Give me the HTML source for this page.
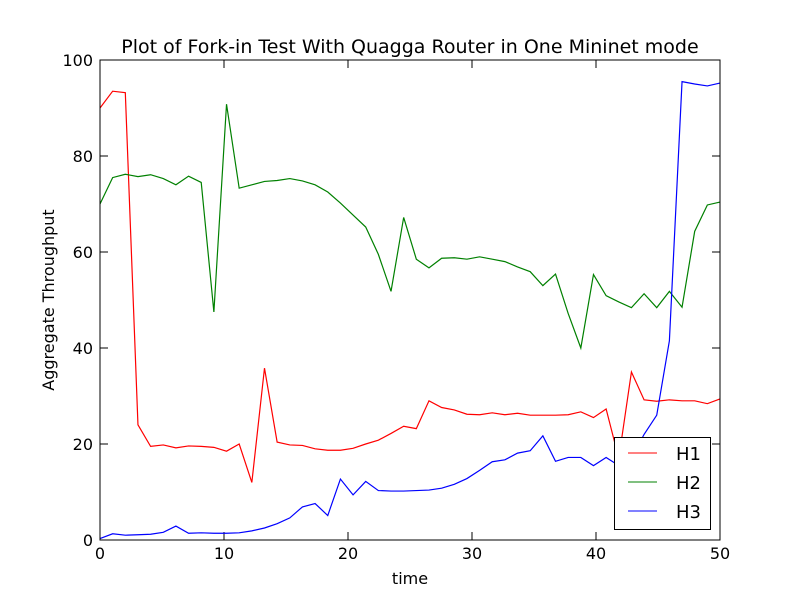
<!DOCTYPE html>
<html><head><meta charset="utf-8"><style>
body{margin:0;background:#fff}
svg{display:block;font-family:"DejaVu Sans","Liberation Sans",sans-serif}
</style></head><body>
<svg id="chart" width="800" height="600">
<rect width="800" height="600" fill="#fff"/>
<text x="410" y="53" font-size="19" text-anchor="middle">Plot of Fork-in Test With Quagga Router in One Mininet mode</text>
<text x="410" y="584" font-size="16" text-anchor="middle">time</text>
<text x="54" y="300" font-size="16" text-anchor="middle" transform="rotate(-90 54 300)">Aggregate Throughput</text>
<g id="ticks"></g>
<g id="series"></g>
<rect x="100" y="60" width="620" height="480" fill="none" stroke="#000" stroke-width="1"/>
<g>
<rect x="614.5" y="437.5" width="96" height="92" fill="#fff" stroke="#000"/>
<line x1="628" y1="453" x2="657" y2="453" stroke="#f00"/>
<text x="676" y="460" font-size="18">H1</text>
<line x1="628" y1="482" x2="657" y2="482" stroke="#008000"/>
<text x="676" y="489" font-size="18">H2</text>
<line x1="628" y1="511" x2="657" y2="511" stroke="#00f"/>
<text x="676" y="518" font-size="18">H3</text>
</g>
</svg>
<script>
const xTicks=[0,10,20,30,40,50];
const yTicks=[0,20,40,60,80,100];
const h1=[90,93.5,93.2,24,19.5,19.8,19.2,19.6,19.5,19.3,18.5,20,12,35.8,20.4,19.8,19.7,19,18.7,18.7,19.1,20,20.8,22.2,23.7,23.2,29,27.6,27.1,26.2,26.1,26.5,26.1,26.4,26,26,26,26.1,26.7,25.5,27.3,17,35,29.2,28.9,29.2,29,29,28.4,29.4];
const h2=[70,75.5,76.2,75.7,76.1,75.3,74,75.8,74.5,47.5,90.8,73.3,74,74.7,74.9,75.3,74.8,74,72.5,70.2,67.7,65.2,59.5,51.8,67.2,58.5,56.7,58.7,58.8,58.5,59,58.5,58,56.9,55.9,53,55.4,47.2,40,55.3,50.9,49.6,48.4,51.3,48.4,51.8,48.5,64.3,69.8,70.4];
const h3=[0.3,1.3,1,1.1,1.2,1.6,2.9,1.4,1.5,1.4,1.4,1.5,1.9,2.5,3.4,4.6,6.9,7.6,5.1,12.7,9.4,12.2,10.3,10.2,10.2,10.3,10.4,10.8,11.6,12.8,14.5,16.3,16.7,18.1,18.6,21.7,16.4,17.2,17.2,15.5,17.2,15.5,17,22,26,41.5,95.5,95,94.6,95.2];
const NS="http://www.w3.org/2000/svg";
const xs=v=>100+v*620/50, ys=v=>540-v*480/100;
const tg=document.getElementById('ticks'), sg=document.getElementById('series');
function mk(tag,attrs,parent){const e=document.createElementNS(NS,tag);for(const k in attrs)e.setAttribute(k,attrs[k]);parent.appendChild(e);return e;}
xTicks.forEach(t=>{const x=xs(t);
 const a=mk('line',{x1:x,y1:540,x2:x,y2:532,stroke:'#000'},tg);
 
 
 const b=mk('line',{x1:x,y1:60,x2:x,y2:68,stroke:'#000'},tg);
 
 
 const l=mk('text',{x:x,y:559,'font-size':16,'text-anchor':'middle'},tg);l.textContent=t;
 
 
});
yTicks.forEach(t=>{const y=ys(t);
 const a=mk('line',{x1:100,y1:y,x2:108,y2:y,stroke:'#000'},tg);
 
 
 const b=mk('line',{x1:712,y1:y,x2:720,y2:y,stroke:'#000'},tg);
 
 
 const l=mk('text',{x:93,y:y+6,'font-size':16,'text-anchor':'end'},tg);l.textContent=t;
 
 
});
[[h1,'#f00','h1'],[h2,'#008000','h2'],[h3,'#00f','h3']].forEach(([d,c,n])=>{
 const pts=d.map((v,i)=>xs(i*50/(d.length-1)).toFixed(2)+','+ys(v).toFixed(2)).join(' ');
 const p=mk('polyline',{points:pts,fill:'none',stroke:c,'stroke-width':1.2},sg);
 
 
});
</script>
</body></html>
